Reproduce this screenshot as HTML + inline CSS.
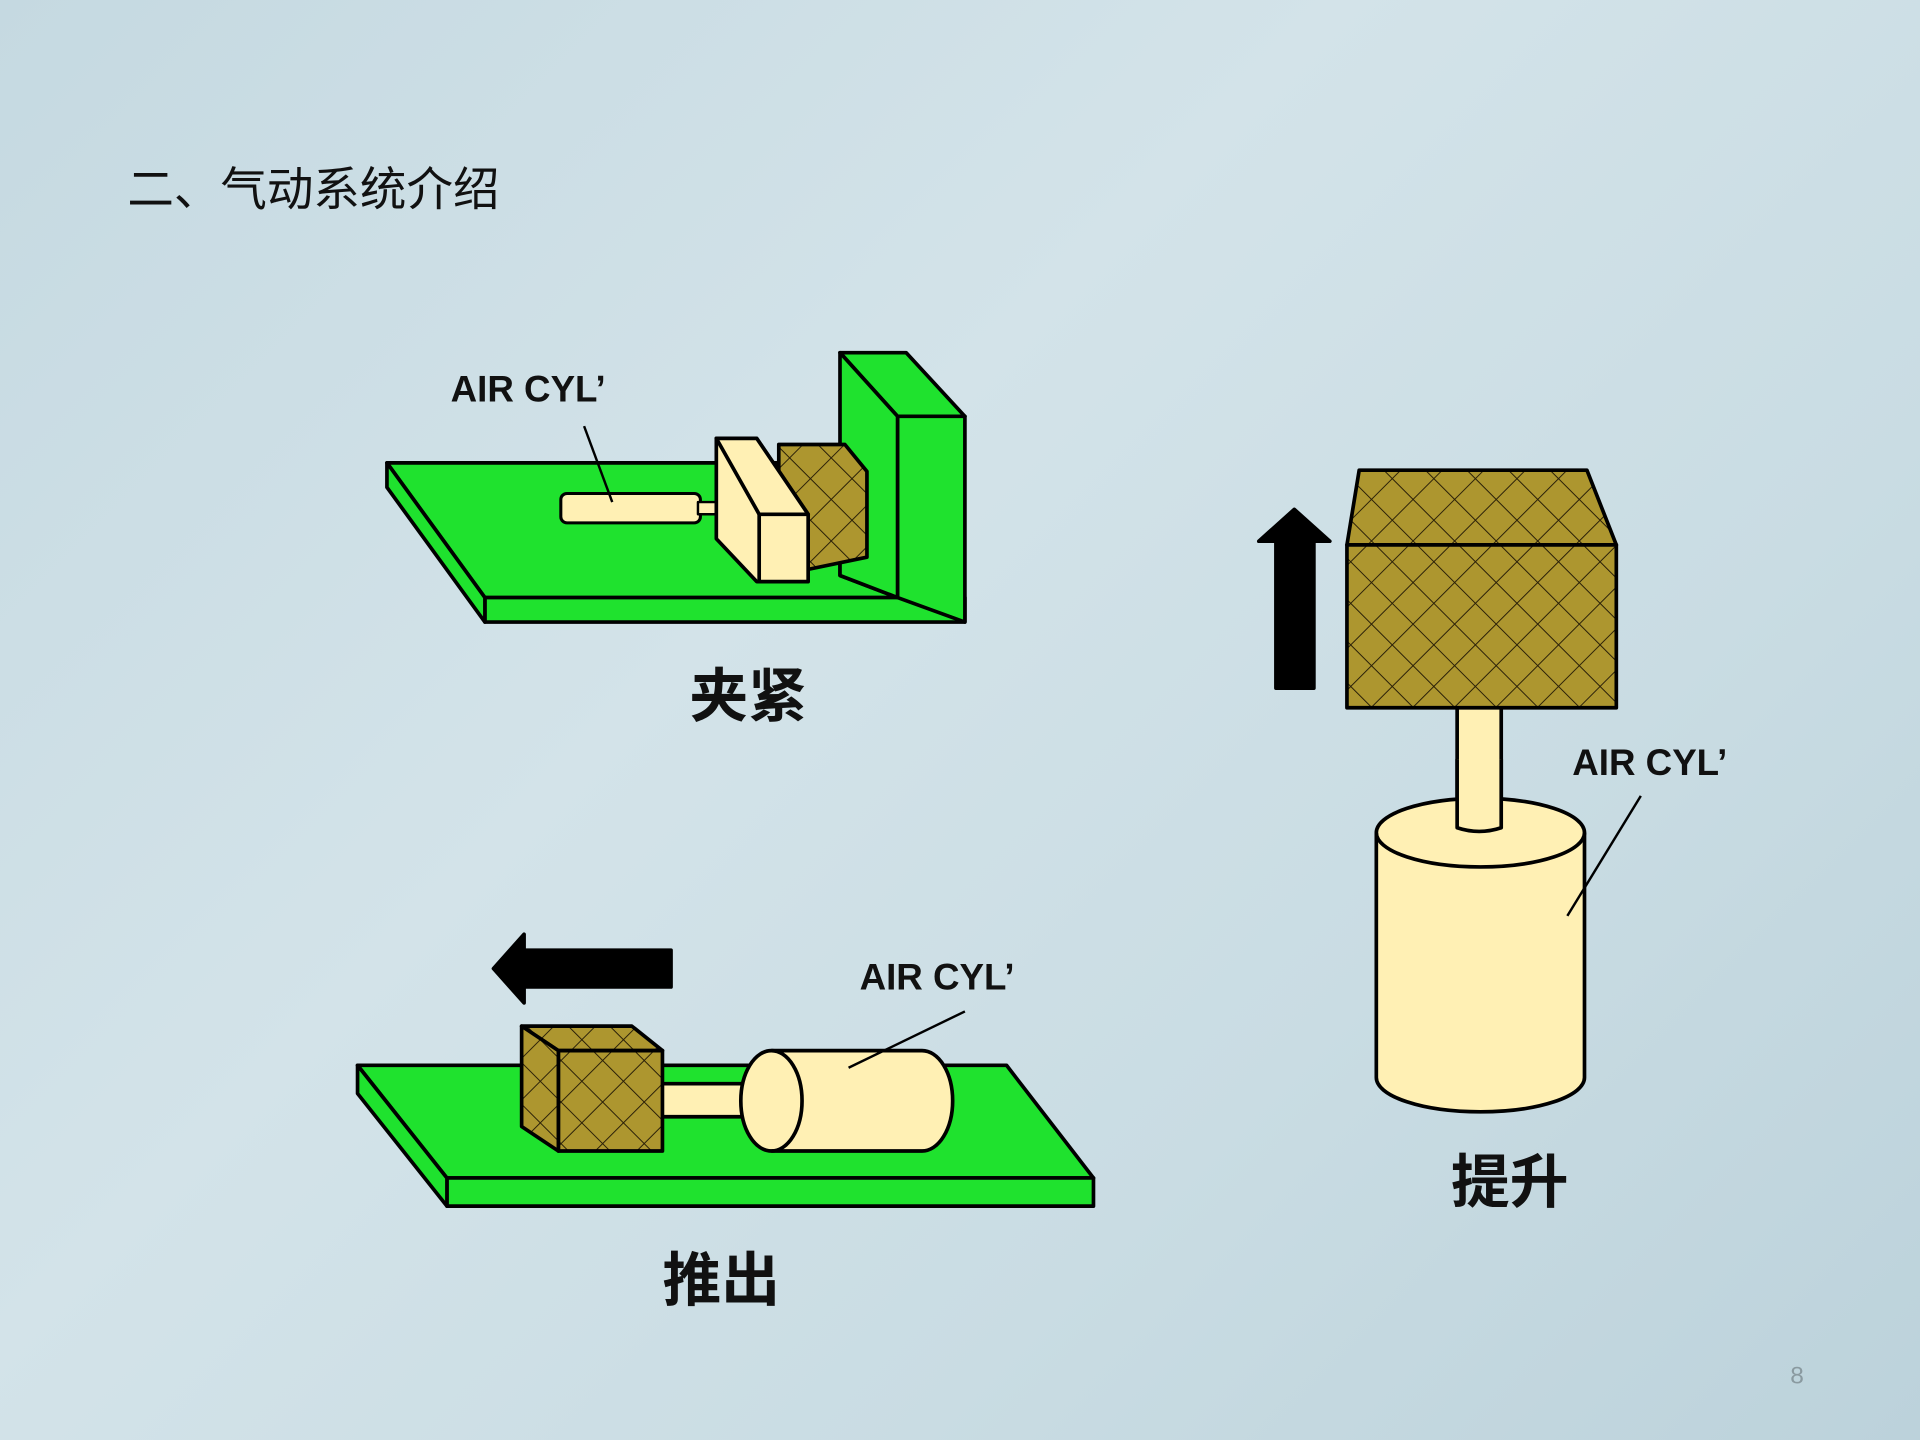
<!DOCTYPE html>
<html><head><meta charset="utf-8"><style>
html,body{margin:0;padding:0;width:1920px;height:1440px;overflow:hidden}
body{background:linear-gradient(135deg,#c5d9e1 0%,#d3e3e9 40%,#c9dce3 70%,#bcd2db 100%)}
svg{display:block}
text{font-family:"Liberation Sans","Noto Sans CJK SC",sans-serif}
</style></head><body>
<svg width="1920" height="1440" viewBox="0 0 1568 1176" xmlns="http://www.w3.org/2000/svg">
<defs>
<pattern id="h" width="24" height="24" patternUnits="userSpaceOnUse" patternTransform="rotate(45)">
<rect width="24" height="24" fill="#ad962f"/>
<path d="M0 0H24M0 0V24" stroke="#2a2008" stroke-width="1.6"/>
</pattern>
</defs>
<g stroke="#000" stroke-width="3" stroke-linejoin="round">
<text x="104" y="168" font-size="38" stroke="none" fill="#111">二、气动系统介绍</text>

<!-- clamp -->
<polygon points="316,378 686,378 686,470 733,488 396,488" fill="#1fe22e"/>
<polygon points="396,488 788,488 788,508 396,508" fill="#1fe22e"/>
<polygon points="316,378 396,488 396,508 316,398" fill="#1fe22e"/>
<polygon points="686,288 740,288 788,340 733,340" fill="#1fe22e"/>
<polygon points="733,340 788,340 788,508 733,488" fill="#1fe22e"/>
<polygon points="686,288 733,340 733,488 686,470" fill="#1fe22e"/>
<rect x="458" y="403" width="114" height="24" rx="5" fill="#fff0b4" stroke-width="2.5"/>
<rect x="570" y="410" width="28" height="10" fill="#fff0b4" stroke-width="2"/>
<polygon points="636,363 690,363 708,385 708,455 660,465 636,440" fill="url(#h)"/>
<polygon points="585,358 618,358 660,420 660,475 618,475 585,440" fill="#fff0b4"/>
<polygon points="585,358 618,358 660,420 620,420" fill="#fff0b4"/>
<line x1="620" y1="420" x2="620" y2="475"/>
<text x="368" y="328" font-size="30" font-weight="bold" stroke="none" fill="#111">AIR CYL’</text>
<line x1="477" y1="348" x2="500" y2="410" stroke-width="2"/>
<text x="563" y="585" font-size="48" font-weight="bold" stroke="none" fill="#111">夹紧</text>

<!-- lift -->
<rect x="1042" y="440" width="31" height="122" fill="#000"/>
<polygon points="1028,442 1057,416 1086,442" fill="#000"/>
<rect x="1190" y="570" width="36" height="110" fill="#fff0b4"/>
<path d="M1124,680 A85,28 0 0 1 1294,680 V880 A85,28 0 0 1 1124,880 Z" fill="#fff0b4"/>
<path d="M1124,680 A85,28 0 0 0 1294,680" fill="none"/>
<rect x="1190" y="620" width="36" height="58" fill="#fff0b4" stroke="none"/>
<path d="M1190,620 V676 Q1208,682 1226,676 V620" fill="none"/>
<polygon points="1110,384 1296,384 1320,445 1100,445" fill="url(#h)"/>
<rect x="1100" y="445" width="220" height="133" fill="url(#h)"/>
<text x="1284" y="633" font-size="30" font-weight="bold" stroke="none" fill="#111">AIR CYL’</text>
<line x1="1340" y1="650" x2="1280" y2="748" stroke-width="2"/>
<text x="1185" y="982" font-size="48" font-weight="bold" stroke="none" fill="#111">提升</text>

<!-- push -->
<rect x="428" y="776" width="120" height="30" fill="#000"/>
<polygon points="403,791 428,763 428,819" fill="#000"/>
<polygon points="292,870 822,870 893,962 365,962" fill="#1fe22e"/>
<polygon points="365,962 893,962 893,985 365,985" fill="#1fe22e"/>
<polygon points="292,870 365,962 365,985 292,893" fill="#1fe22e"/>
<rect x="538" y="885" width="74" height="27" fill="#fff0b4"/>
<path d="M630,858 H753 A25,41 0 0 1 753,940 H630 A25,41 0 0 1 630,858 Z" fill="#fff0b4"/>
<path d="M630,858 A25,41 0 0 1 630,940" fill="none"/>
<polygon points="426,838 516,838 541,858 456,858" fill="url(#h)"/>
<rect x="456" y="858" width="85" height="82" fill="url(#h)"/>
<polygon points="426,838 456,858 456,940 426,920" fill="url(#h)"/>
<text x="702" y="808" font-size="30" font-weight="bold" stroke="none" fill="#111">AIR CYL’</text>
<line x1="788" y1="826" x2="693" y2="872" stroke-width="2"/>
<text x="541" y="1062" font-size="48" font-weight="bold" stroke="none" fill="#111">推出</text>

<text x="1462" y="1130" font-size="20" stroke="none" fill="#8a9aa0">8</text>
</g>
</svg>
</body></html>
